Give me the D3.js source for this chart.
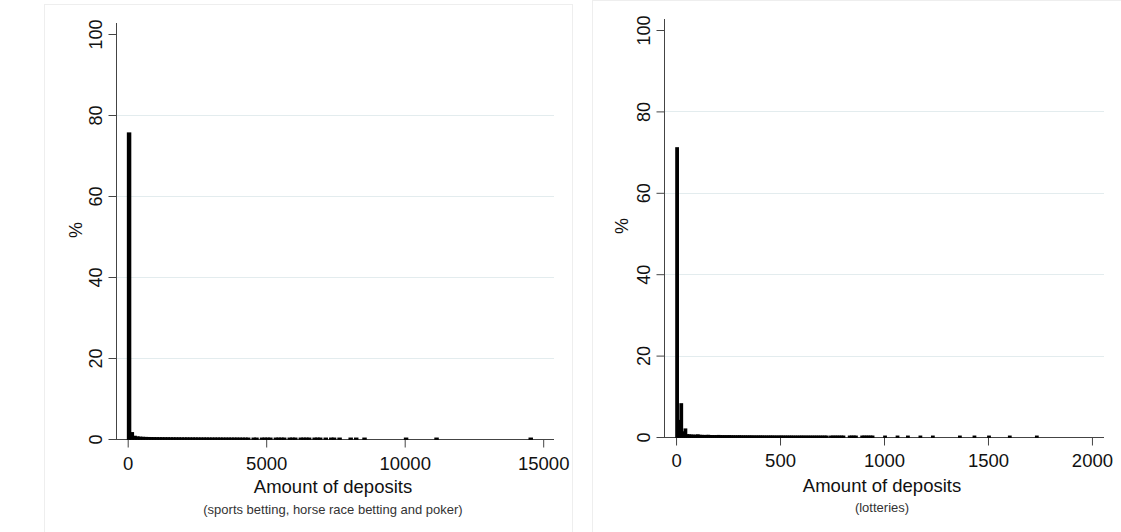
<!DOCTYPE html>
<html><head><meta charset="utf-8">
<script src="https://cdn.jsdelivr.net/npm/d3@7"></script>
<style>
body{margin:0;background:#fff}
svg{display:block}
text{font-family:"Liberation Sans",Arial,sans-serif}
</style>
</head><body>
<svg id="c" width="1121" height="532"></svg>
<script>
// ---------- data ----------
const yTicks = [0, 20, 40, 60, 80, 100];
const yGrid = [20, 40, 60, 80];
const leftXTicks = [0, 5000, 10000, 15000];
const rightXTicks = [0, 500, 1000, 1500, 2000];
const yTitle = "%";
const xTitle = "Amount of deposits";
const leftSubtitle = "(sports betting, horse race betting and poker)";
const rightSubtitle = "(lotteries)";

// Left panel histogram: sports betting, horse race betting and poker (bin width 100)
const leftBinWidth = 100;
const leftBinStarts = [
  0,100,200,300,400,500,600,700,800,900,1000,1100,1200,1300,1400,1500,1600,1700,1800,1900,
  2000,2100,2200,2300,2400,2500,2600,2700,2800,2900,3000,3100,3200,3300,3400,3500,3600,3700,3800,3900,
  4000,4100,4200,4300,
  4500,4600,4800,4900,5000,5100,5300,5400,5500,5600,5800,5900,6000,6200,6300,6400,6500,6700,6800,6900,
  7100,7300,7400,7600,8000,8200,8500,10000,11100,14500
];
const leftPct = [
  75.5,1.5,0.6,0.45,0.38,0.34,0.31,0.29,0.27,0.26,0.25,0.24,0.24,0.23,0.23,0.22,0.22,0.21,0.21,0.2,
  0.2,0.2,0.19,0.19,0.19,0.18,0.18,0.18,0.18,0.17,0.17,0.17,0.17,0.17,0.16,0.16,0.16,0.16,0.16,0.16,
  0.15,0.15,0.15,0.15,
  0.15,0.15,0.15,0.15,0.15,0.15,0.15,0.15,0.15,0.15,0.15,0.15,0.15,0.15,0.15,0.15,0.15,0.15,0.15,0.15,
  0.15,0.15,0.15,0.15,0.15,0.15,0.15,0.15,0.15,0.15
];

// Right panel histogram: lotteries (bin width 10)
const rightBinWidth = 10;
const rightBinStarts = [
  0,10,20,30,40,50,60,70,80,90,100,110,120,130,140,150,160,170,180,190,
  200,210,220,230,240,250,260,270,280,290,300,310,320,330,340,350,360,370,380,390,
  400,410,420,430,440,450,460,470,480,490,500,510,520,530,540,550,560,570,580,590,
  600,610,620,630,640,650,660,670,680,690,700,710,720,
  740,750,760,770,780,790,800,830,840,850,860,890,900,910,920,930,940,
  1000,1060,1110,1170,1230,1360,1430,1500,1600,1730
];
const rightPct = [
  71,4.0,8.1,1.2,1.9,0.5,0.45,0.4,0.38,0.36,
  0.45,0.34,0.32,0.3,0.3,0.34,0.28,0.27,0.26,0.26,
  0.3,0.25,0.24,0.24,0.23,0.25,0.22,0.22,0.21,0.21,
  0.23,0.2,0.2,0.2,0.19,0.2,0.19,0.18,0.18,0.18,
  0.19,0.18,0.17,0.17,0.17,0.18,0.17,0.16,0.16,0.16,
  0.17,0.16,0.16,0.16,0.16,0.16,0.15,0.15,0.15,0.15,
  0.16,0.15,0.15,0.15,0.15,0.15,0.15,0.15,0.15,0.15,
  0.15,0.15,0.15,
  0.15,0.15,0.15,0.15,0.15,0.15,0.15,0.15,0.15,0.15,0.15,0.15,0.15,0.15,0.15,0.15,0.15,
  0.15,0.15,0.15,0.15,0.15,0.15,0.15,0.15,0.15,0.15
];

// ---------- drawing ----------
const svg = d3.select("#c");

function drawPanel(o) {
  const g = svg.append("g");
  // faint panel frame
  g.append("rect").attr("x", o.frame[0]).attr("y", o.frame[1])
    .attr("width", o.frame[2]).attr("height", o.frame[3])
    .attr("fill", "#fff").attr("stroke", "#eeeeee").attr("stroke-width", 1);

  const x = d3.scaleLinear().domain(o.xDomain).range([o.left, o.right]);
  const y = d3.scaleLinear().domain([0, 100]).range([o.y0, o.y100]);

  // grid
  g.append("g").selectAll("line").data(yGrid).join("line")
    .attr("x1", o.left).attr("x2", o.right)
    .attr("y1", d => Math.round(y(d)) + 0.5).attr("y2", d => Math.round(y(d)) + 0.5)
    .attr("stroke", "#e3ecee").attr("stroke-width", 1);

  // y axis
  const ya = g.append("g").attr("transform", `translate(${o.left + 0.5},0)`)
    .call(d3.axisLeft(y).tickValues(yTicks).tickSize(8).tickSizeOuter(0));
  ya.select(".domain").remove();
  ya.selectAll(".tick line").attr("stroke", "#444");
  ya.selectAll(".tick text")
    .attr("x", 0).attr("y", 0).attr("dy", 0)
    .attr("transform", "translate(-15,0) rotate(-90)")
    .attr("text-anchor", "middle")
    .attr("font-size", 18).attr("fill", "#111");
  g.append("line").attr("x1", o.left + 0.5).attr("x2", o.left + 0.5)
    .attr("y1", y(0)).attr("y2", y(100) - o.axisOver)
    .attr("stroke", "#444").attr("stroke-width", 1);

  // x axis
  const xa = g.append("g").attr("transform", `translate(0,${y(0) + 0.5})`)
    .call(d3.axisBottom(x).tickValues(o.xTicks).tickSize(8).tickSizeOuter(0).tickFormat(d3.format("d")));
  xa.select(".domain").remove();
  xa.selectAll(".tick line").attr("stroke", "#444");
  xa.selectAll(".tick text").attr("y", o.xLabOff).attr("dy", 0)
    .attr("font-size", 18.5).attr("fill", "#111");
  g.append("line").attr("x1", o.left).attr("x2", o.right)
    .attr("y1", y(0) + 0.5).attr("y2", y(0) + 0.5)
    .attr("stroke", "#444").attr("stroke-width", 1);

  // bars
  const data = o.starts.map((s, i) => ({ s, v: o.pct[i] }));
  g.append("g").selectAll("rect").data(data).join("rect")
    .attr("x", d => x(d.s))
    .attr("width", d => x(d.s + o.bw) - x(d.s))
    .attr("y", d => y(d.v))
    .attr("height", d => y(0) - y(d.v))
    .attr("fill", "#000").attr("stroke", "#000").attr("stroke-width", 1.7);

  // titles
  const cx = (o.left + o.right) / 2 - 2;
  g.append("text").attr("x", cx).attr("y", o.titleY)
    .attr("text-anchor", "middle").attr("font-size", 18.5).attr("fill", "#111").text(xTitle);
  g.append("text").attr("x", cx).attr("y", o.subY)
    .attr("text-anchor", "middle").attr("font-size", 13).attr("fill", "#333").text(o.sub);
  g.append("text").attr("transform", `translate(${o.pctX},${o.pctY}) rotate(-90)`)
    .attr("text-anchor", "middle").attr("font-size", 18).attr("fill", "#111").text(yTitle);
}

drawPanel({
  frame: [44.5, 4.5, 528, 530],
  left: 116, right: 554, y0: 439, y100: 34, axisOver: 11,
  xDomain: [-422, 15390], xTicks: leftXTicks,
  starts: leftBinStarts, pct: leftPct, bw: leftBinWidth,
  xLabOff: 30, titleY: 493, subY: 514, sub: leftSubtitle,
  pctX: 81.5, pctY: 230
});

drawPanel({
  frame: [592.5, 0.5, 530, 534],
  left: 664, right: 1104, y0: 437, y100: 30, axisOver: 11,
  xDomain: [-58, 2058], xTicks: rightXTicks,
  starts: rightBinStarts, pct: rightPct, bw: rightBinWidth,
  xLabOff: 29, titleY: 492, subY: 512, sub: rightSubtitle,
  pctX: 627.5, pctY: 226
});
</script>
</body></html>
